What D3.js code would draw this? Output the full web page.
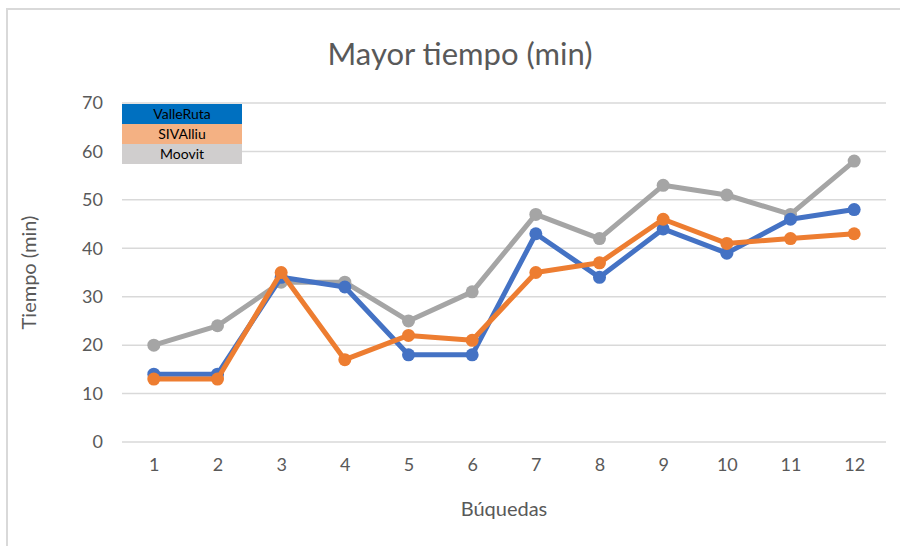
<!DOCTYPE html>
<html>
<head>
<meta charset="utf-8">
<script src="https://cdn.jsdelivr.net/npm/d3@7"></script>
<style>
  body { margin: 0; background: #fff; }
  text { font-family: Lato, "Open Sans", sans-serif; }
</style>
</head>
<body>
<div id="chart"></div>
<script>
const searches = [1, 2, 3, 4, 5, 6, 7, 8, 9, 10, 11, 12];
const valleRuta = [14, 14, 34, 32, 18, 18, 43, 34, 44, 39, 46, 48];
const sivAlliu = [13, 13, 35, 17, 22, 21, 35, 37, 46, 41, 42, 43];
const moovit = [20, 24, 33, 33, 25, 31, 47, 42, 53, 51, 47, 58];
const yTicks = [0, 10, 20, 30, 40, 50, 60, 70];

const series = [
    { label: "ValleRuta", values: valleRuta, color: "#4472c4", legend: "#0070c0" },
    { label: "SIVAlliu", values: sivAlliu, color: "#ed7d31", legend: "#f4b183" },
    { label: "Moovit", values: moovit, color: "#a5a5a5", legend: "#d0cece" }
];
// draw order: gray at back, then blue, orange on top
const drawOrder = [series[2], series[0], series[1]];

const W = 900, H = 546;
const margin = { top: 103, right: 14, bottom: 104, left: 122 };

const svg = d3.select("#chart").append("svg")
    .attr("width", W)
    .attr("height", H);

// chart frame (only top and left visible)
svg.append("path")
    .attr("d", `M7,${H} V9 H${W}`)
    .attr("fill", "none")
    .attr("stroke", "#d9d9d9")
    .attr("stroke-width", 2);

const x = d3.scalePoint()
    .domain(searches)
    .range([margin.left, W - margin.right])
    .padding(0.5);

const y = d3.scaleLinear()
    .domain([0, 70])
    .range([H - margin.bottom, margin.top]);

// gridlines
svg.append("g")
    .selectAll("line")
    .data(yTicks)
    .join("line")
    .attr("x1", margin.left)
    .attr("x2", W - margin.right)
    .attr("y1", d => y(d))
    .attr("y2", d => y(d))
    .attr("stroke", "#d9d9d9")
    .attr("stroke-width", 1.5);

// y axis labels
const yAxis = svg.append("g")
    .attr("transform", `translate(${margin.left},0)`)
    .call(d3.axisLeft(y).tickValues(yTicks).tickSize(0).tickPadding(19));
yAxis.select(".domain").remove();
yAxis.selectAll("text")
    .attr("fill", "#595959")
    .style("font-size", "18px");

// x axis labels
const xAxis = svg.append("g")
    .attr("transform", `translate(0,${y(0)})`)
    .call(d3.axisBottom(x).tickSize(0).tickPadding(16));
xAxis.select(".domain").remove();
xAxis.selectAll("text")
    .attr("fill", "#595959")
    .style("font-size", "18px");

// lines and markers
const line = d3.line()
    .x((d, i) => x(searches[i]))
    .y(d => y(d));

drawOrder.forEach(s => {
    const g = svg.append("g");
    g.append("path")
        .datum(s.values)
        .attr("d", line)
        .attr("fill", "none")
        .attr("stroke", s.color)
        .attr("stroke-width", 5)
        .attr("stroke-linejoin", "round");
    g.selectAll("circle")
        .data(s.values)
        .join("circle")
        .attr("cx", (d, i) => x(searches[i]))
        .attr("cy", d => y(d))
        .attr("r", 6.5)
        .attr("fill", s.color);
});

// title
svg.append("text")
    .attr("x", 460)
    .attr("y", 65)
    .attr("text-anchor", "middle")
    .attr("fill", "#595959")
    .style("font-size", "31px")
    .text("Mayor tiempo (min)");

// axis titles
svg.append("text")
    .attr("transform", `translate(36,${(y(0) + y(70)) / 2}) rotate(-90)`)
    .attr("text-anchor", "middle")
    .attr("fill", "#595959")
    .style("font-size", "20px")
    .text("Tiempo (min)");

svg.append("text")
    .attr("x", (margin.left + W - margin.right) / 2)
    .attr("y", 516)
    .attr("text-anchor", "middle")
    .attr("fill", "#595959")
    .style("font-size", "20px")
    .text("Búquedas");

// legend (cell-style boxes)
const legend = svg.append("g").attr("transform", "translate(122,104)");
const rowH = 20;
series.forEach((s, i) => {
    legend.append("rect")
        .attr("x", 0)
        .attr("y", i * rowH)
        .attr("width", 120)
        .attr("height", rowH)
        .attr("fill", s.legend);
    legend.append("text")
        .attr("x", 60)
        .attr("y", i * rowH + rowH / 2)
        .attr("dy", "0.35em")
        .attr("text-anchor", "middle")
        .attr("fill", "#000")
        .style("font-size", "14px")
        .text(s.label);
});
</script>
</body>
</html>
